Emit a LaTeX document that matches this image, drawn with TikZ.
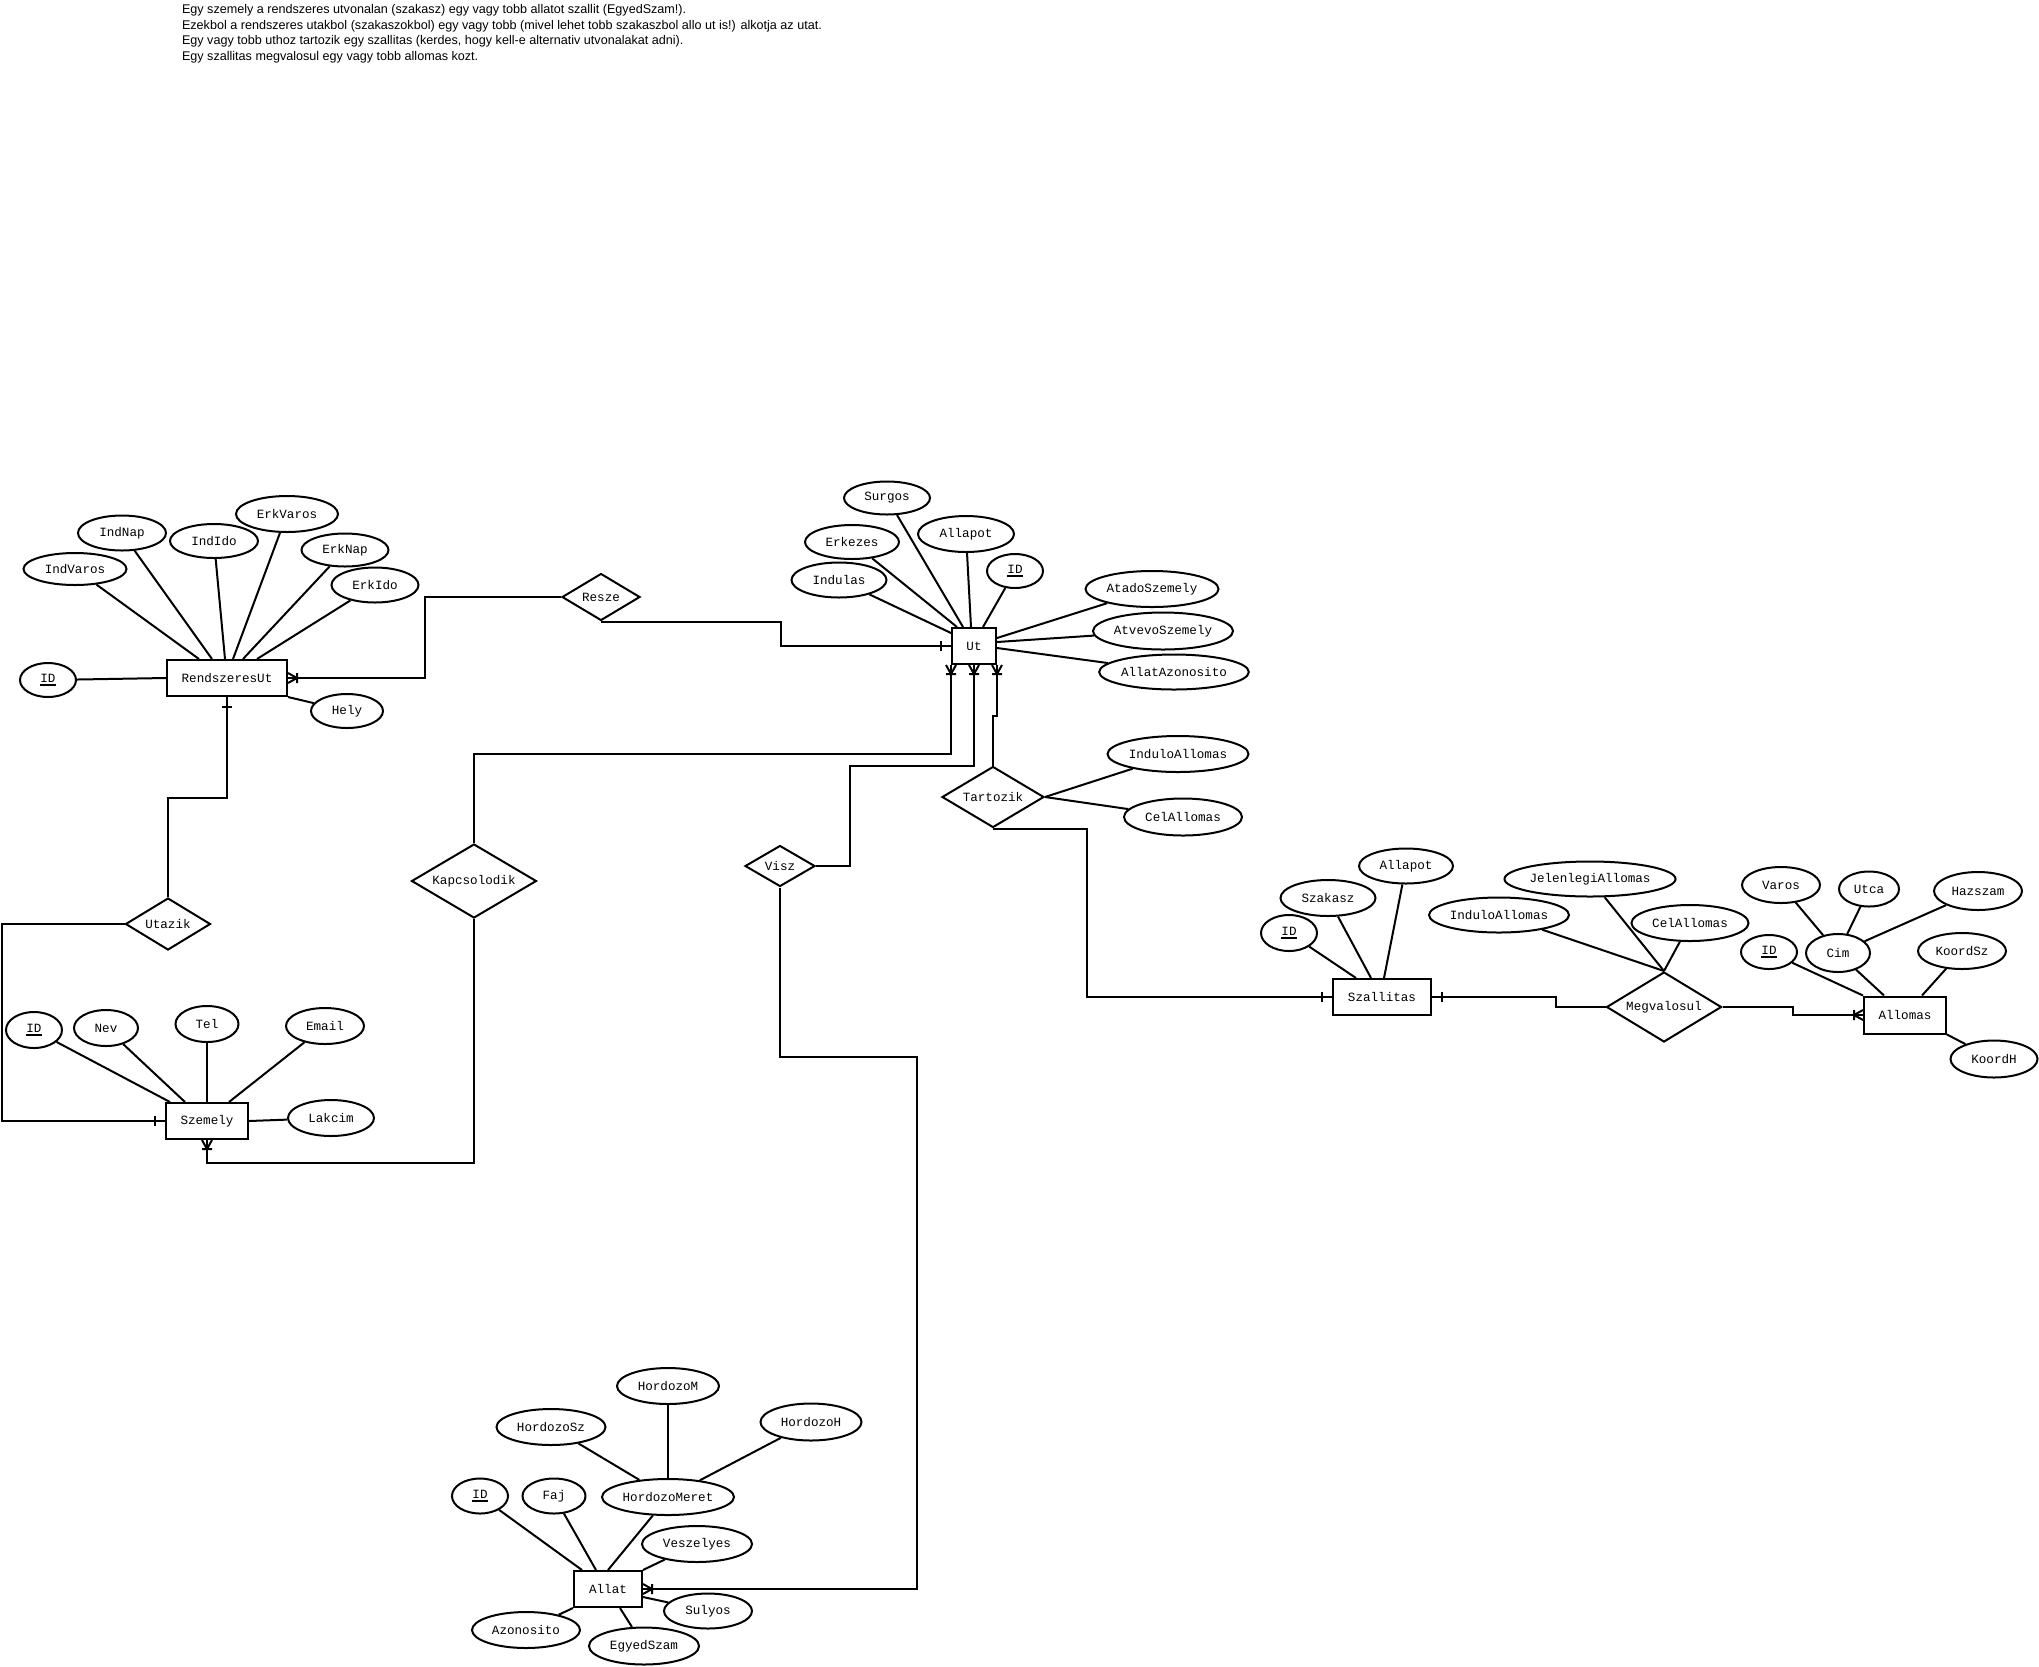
\documentclass[tikz,border=0pt]{standalone}
\usepackage{fontspec}
\setmainfont{Liberation Mono}
\newfontfamily\notefont{Liberation Sans}
\usetikzlibrary{shapes.geometric,calc}

% underlined key attribute
\newcommand{\keyattr}[1]{\setbox0=\hbox{#1}\rlap{\rule[-1.5pt]{\wd0}{0.9pt}}\box0}

% cardinality marks: #1 point on the entity border, (#2,#3) unit direction away from it
\newcommand{\crowfoot}[3]{%
  \draw ($#1+({9*(#2)},{9*(#3)})$) -- ($#1+({-5*(#3)},{5*(#2)})$)
        ($#1+({9*(#2)},{9*(#3)})$) -- ($#1+({5*(#3)},{-5*(#2)})$)
        ($#1+({9*(#2)-5*(#3)},{9*(#3)+5*(#2)})$) -- ($#1+({9*(#2)+5*(#3)},{9*(#3)-5*(#2)})$);}
\newcommand{\onebar}[3]{%
  \draw ($#1+({10*(#2)-5*(#3)},{10*(#3)+5*(#2)})$) -- ($#1+({10*(#2)+5*(#3)},{10*(#3)-5*(#2)})$);}

\tikzset{
  sz/.style 2 args={minimum width={#1*0.5pt}, minimum height={#2*0.5pt}},
  ent/.style={draw, rectangle, inner sep=0pt},
  attr/.style={draw, ellipse, inner sep=0pt},
  rel/.style={draw, diamond, inner sep=0pt, shape aspect=1.65},
  note/.style={anchor=base west, inner sep=0pt, font=\notefont\fontsize{6.3}{7.8}\selectfont},
}

\begin{document}
\begin{tikzpicture}[x=0.5pt, y=-0.5pt, line width=1pt,
  every node/.append style={font=\fontsize{6.3}{7.5}\selectfont}]
\useasboundingbox[fill=white] (0,0) rectangle (2039,1666);

% notes
\node[note] (n1) at (181,13.5) {Egy szemely a rendszeres utvonalan (szakasz) egy vagy tobb allatot szallit (EgyedSzam!).};
\node[note] (n2) at (181,29) {Ezekbol a rendszeres utakbol (szakaszokbol) egy vagy tobb (mivel lehet tobb szakaszbol allo ut is!) alkotja az utat.};
\node[note] (n3) at (181,44.5) {Egy vagy tobb uthoz tartozik egy szallitas (kerdes, hogy kell-e alternativ utvonalakat adni).};
\node[note] (n4) at (181,60) {Egy szallitas megvalosul egy vagy tobb allomas kozt.};

% ---------- RendszeresUt ----------
\node[ent, sz={120}{36}] (rut) at (227,678) {RendszeresUt};
\node[attr, sz={56}{34}] (rutid) at (48,680) {\keyattr{ID}};
\node[attr, sz={103}{32}] (indvaros) at (75,569) {IndVaros};
\node[attr, sz={88}{35}] (indnap) at (122,533) {IndNap};
\node[attr, sz={88}{34}] (indido) at (214,541) {IndIdo};
\node[attr, sz={102}{36}] (erkvaros) at (287,514) {ErkVaros};
\node[attr, sz={87}{33}] (erknap) at (345,550) {ErkNap};
\node[attr, sz={87}{35}] (erkido) at (375,585) {ErkIdo};
\node[attr, sz={72}{34}] (hely) at (347,711) {Hely};
\draw (rutid) -- (rut.west);
\draw (indvaros) -- ($(rut.north west)+(33,0)$);
\draw (indnap) -- ($(rut.north west)+(46,0)$);
\draw (indido) -- ($(rut.north west)+(59,0)$);
\draw (erkvaros) -- ($(rut.north west)+(67,0)$);
\draw (erknap) -- ($(rut.north west)+(77,0)$);
\draw (erkido) -- ($(rut.north west)+(91,0)$);
\draw (hely) -- (rut.south east);

% ---------- Ut ----------
\node[ent, sz={44}{36}] (ut) at (974,646) {Ut};
\node[attr, sz={86}{33}] (surgos) at (887,498) {Surgos};
\node[attr, sz={94}{34}] (erkezes) at (852,542) {Erkezes};
\node[attr, sz={95}{35}] (indulas) at (839,580) {Indulas};
\node[attr, sz={96}{36}] (utallapot) at (966,534) {Allapot};
\node[attr, sz={56}{34}] (utid) at (1015,571) {\keyattr{ID}};
\node[attr, sz={133}{36}] (atado) at (1152,589) {AtadoSzemely};
\node[attr, sz={140}{37}] (atvevo) at (1163,631) {AtvevoSzemely};
\node[attr, sz={149}{35}] (allatazon) at (1174,672) {AllatAzonosito};
\draw (indulas) -- ($(ut.north west)+(0,6)$);
\draw (erkezes) -- ($(ut.north west)+(6,0)$);
\draw (surgos) -- ($(ut.north west)+(12,0)$);
\draw (utallapot) -- ($(ut.north west)+(20,0)$);
\draw (utid) -- ($(ut.north west)+(32,0)$);
\draw (atado) -- ($(ut.north east)+(0,11)$);
\draw (atvevo) -- ($(ut.north east)+(0,15)$);
\draw (allatazon) -- ($(ut.north east)+(0,21)$);

% ---------- Szemely ----------
\node[ent, sz={82}{36}] (szemely) at (207,1121) {Szemely};
\node[attr, sz={56}{36}] (szid) at (34,1030) {\keyattr{ID}};
\node[attr, sz={64}{36}] (nev) at (106,1028) {Nev};
\node[attr, sz={63}{36}] (tel) at (207,1024) {Tel};
\node[attr, sz={78}{36}] (email) at (325,1026) {Email};
\node[attr, sz={86}{36}] (lakcim) at (331,1118) {Lakcim};
\draw (szid) -- ($(szemely.north west)+(5,0)$);
\draw (nev) -- ($(szemely.north west)+(20,0)$);
\draw (tel) -- (szemely.north);
\draw (email) -- ($(szemely.north west)+(64,0)$);
\draw (lakcim) -- (szemely.east);

% ---------- relationships ----------
\node[rel, sz={78}{47}] (resze) at (601,597) {Resze};
\node[rel, sz={85}{52}] (utazik) at (168,924) {Utazik};
\node[rel, sz={125}{74}] (kapcs) at (474,881) {Kapcsolodik};
\node[rel, sz={70}{41}] (visz) at (780,866) {Visz};
\node[rel, sz={102}{61}] (tartozik) at (993,797) {Tartozik};
\node[rel, sz={115}{70}] (megval) at (1664,1007) {Megvalosul};

\node[attr, sz={141}{36}] (tindulo) at (1178,754) {InduloAllomas};
\node[attr, sz={118}{37}] (tcel) at (1183,817) {CelAllomas};
\draw (tartozik.east) -- (tindulo);
\draw (tartozik.east) -- (tcel);

% ---------- Szallitas ----------
\node[ent, sz={98}{36}] (szall) at (1382,997) {Szallitas};
\node[attr, sz={56}{36}] (szallid) at (1289,933) {\keyattr{ID}};
\node[attr, sz={95}{36}] (szakasz) at (1328,898) {Szakasz};
\node[attr, sz={94}{35}] (szallapot) at (1406,866) {Allapot};
\draw (szallid) -- ($(szall.north west)+(24,0)$);
\draw (szakasz) -- ($(szall.north west)+(39,0)$);
\draw (szallapot) -- ($(szall.north west)+(52,0)$);

\node[attr, sz={140}{35}] (mindulo) at (1499,915) {InduloAllomas};
\node[attr, sz={163}{35}] (mjelen) at (1590,879) {JelenlegiAllomas};
\node[attr, sz={117}{36}] (mcel) at (1690,923) {CelAllomas};
\draw (mindulo) -- (megval.north);
\draw (mjelen) -- (megval.north);
\draw (mcel) -- (megval.north);

% ---------- Allomas ----------
\node[ent, sz={82}{37}] (allomas) at (1905,1015) {Allomas};
\node[attr, sz={56}{34}] (alid) at (1769,952) {\keyattr{ID}};
\node[attr, sz={64}{38}] (cim) at (1838,953) {Cim};
\node[attr, sz={78}{36}] (varos) at (1781,885) {Varos};
\node[attr, sz={60}{35}] (utca) at (1869,889) {Utca};
\node[attr, sz={88}{38}] (hazszam) at (1978,891) {Hazszam};
\node[attr, sz={88}{36}] (koordsz) at (1962,951) {KoordSz};
\node[attr, sz={87}{37}] (koordh) at (1994,1059) {KoordH};
\draw (alid) -- (allomas.north west);
\draw (cim) -- ($(allomas.north west)+(21,0)$);
\draw (koordsz) -- ($(allomas.north west)+(59,0)$);
\draw (koordh) -- (allomas.south east);
\draw (varos) -- (cim);
\draw (utca) -- (cim);
\draw (hazszam) -- (cim);

% ---------- Allat ----------
\node[ent, sz={68}{36}] (allat) at (608,1589) {Allat};
\node[attr, sz={56}{35}] (allatid) at (480,1496) {\keyattr{ID}};
\node[attr, sz={63}{35}] (faj) at (554,1496) {Faj};
\node[attr, sz={132}{36}] (hmeret) at (668,1497) {HordozoMeret};
\node[attr, sz={109}{36}] (hsz) at (551,1427) {HordozoSz};
\node[attr, sz={102}{36}] (hm) at (668,1386) {HordozoM};
\node[attr, sz={101}{37}] (hh) at (811,1422) {HordozoH};
\node[attr, sz={110}{36}] (veszelyes) at (697,1544) {Veszelyes};
\node[attr, sz={88}{35}] (sulyos) at (708,1611) {Sulyos};
\node[attr, sz={108}{36}] (azonosito) at (526,1630) {Azonosito};
\node[attr, sz={110}{37}] (egyedszam) at (644,1646) {EgyedSzam};
\draw (allatid) -- ($(allat.north west)+(9,0)$);
\draw (faj) -- ($(allat.north west)+(23,0)$);
\draw (hmeret) -- (allat.north);
\draw (hsz) -- (hmeret);
\draw (hm) -- (hmeret);
\draw (hh) -- (hmeret);
\draw (veszelyes) -- (allat.north east);
\draw (sulyos) -- ($(allat.east)+(0,8)$);
\draw (azonosito) -- (allat.south west);
\draw (egyedszam) -- ($(allat.south)+(12,0)$);

% ---------- connectors ----------
\draw (resze.west) -| (425,678) -- (rut.east);
\crowfoot{(rut.east)}{1}{0}
\draw (resze.south) -| (781,646) -- (ut.west);
\onebar{(ut.west)}{-1}{0}

\draw (rut.south) -- ++(0,101) -| (utazik.north);
\onebar{(rut.south)}{0}{1}
\draw (utazik.west) -| (2,1121) -- (szemely.west);
\onebar{(szemely.west)}{-1}{0}

\draw (kapcs.south) |- (207,1163) -- (szemely.south);
\crowfoot{(szemely.south)}{0}{1}
\draw (kapcs.north) |- ($(ut.south west)+(0,89)$) -- (ut.south west);
\crowfoot{(ut.south west)}{0}{1}

\draw (visz.east) -| (850,766) -| (ut.south);
\crowfoot{(ut.south)}{0}{1}
\draw (visz.south) |- (917,1057) |- (allat.east);
\crowfoot{(allat.east)}{1}{0}

\draw (tartozik.north) |- ($(ut.south east)+(0,51)$) -- (ut.south east);
\crowfoot{(ut.south east)}{0}{1}
\draw (tartozik.south) -| (1087,997) -- (szall.west);
\onebar{(szall.west)}{-1}{0}

\draw (szall.east) -| (1556,1007) -- (megval.west);
\onebar{(szall.east)}{1}{0}
\draw (megval.east) -| ($(allomas.west)+(-70,0)$) -- (allomas.west);
\crowfoot{(allomas.west)}{-1}{0}
\end{tikzpicture}
\end{document}
